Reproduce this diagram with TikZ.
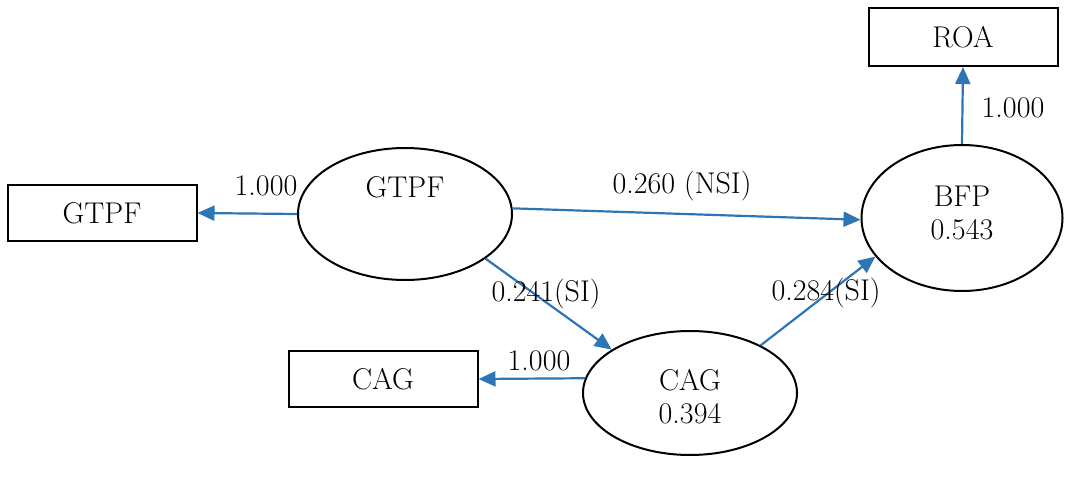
\documentclass[tikz,border=0pt]{standalone}
\usetikzlibrary{shapes.geometric,arrows.meta}
\definecolor{arrowblue}{RGB}{46,117,182}
\begin{document}
\begin{tikzpicture}[x=1pt,y=-1pt,
  font=\fontsize{30}{36}\selectfont,
  boxnode/.style={draw=black,line width=2pt,minimum width=189pt,minimum height=56pt,inner sep=0pt},
  ellnode/.style={draw=black,line width=2pt,ellipse,inner sep=0pt},
  txt/.style={inner sep=0pt,anchor=center},
  conn/.style={draw=arrowblue,line width=2.2pt,-{Triangle[length=17pt,width=15pt]}}]
\useasboundingbox (0,0) rectangle (1073,478);
% boxes
\node[boxnode] (gtpfB) at (102,213) {GTPF};
\node[boxnode] (cagB) at (383,379) {CAG};
\node[boxnode,minimum height=58pt] (roaB) at (963,37) {ROA};
% ellipses
\node[ellnode,minimum width=214pt,minimum height=132pt] (gtpfE) at (405,214) {};
\node[ellnode,minimum width=201pt,minimum height=146pt] (bfpE) at (962,218) {};
\node[ellnode,minimum width=214pt,minimum height=124pt] (cagE) at (690,393) {};
% ellipse texts
\node[txt] (gtpfT) at (405,187) {GTPF};
\node[txt] (bfpT) at (962,196) {BFP};
\node[txt] (bfpV) at (962,230) {0.543};
\node[txt] (cagT) at (690,380) {CAG};
\node[txt] (cagV) at (690,414) {0.394};
% connectors
\draw[conn] (gtpfE.west) -- (gtpfB.east);
\draw[conn] (cagE.172) -- (cagB.east);
\draw[conn] (bfpE.north) -- (roaB.south);
\draw[conn] (gtpfE.3) -- (bfpE.181);
\draw[conn] (gtpfE.-29) -- (cagE.151);
\draw[conn] (cagE.34) -- (bfpE.-156);
% labels
\node[txt] (l1) at (266,186) {1.000};
\node[txt] (l2) at (539,361) {1.000};
\node[txt] (l3) at (1013,108) {1.000};
\node[txt] (l4) at (682,186) {0.260 (NSI)};
\node[txt] (l5) at (546,294) {0.241(SI)};
\node[txt] (l6) at (826,293) {0.284(SI)};
\end{tikzpicture}
\end{document}
